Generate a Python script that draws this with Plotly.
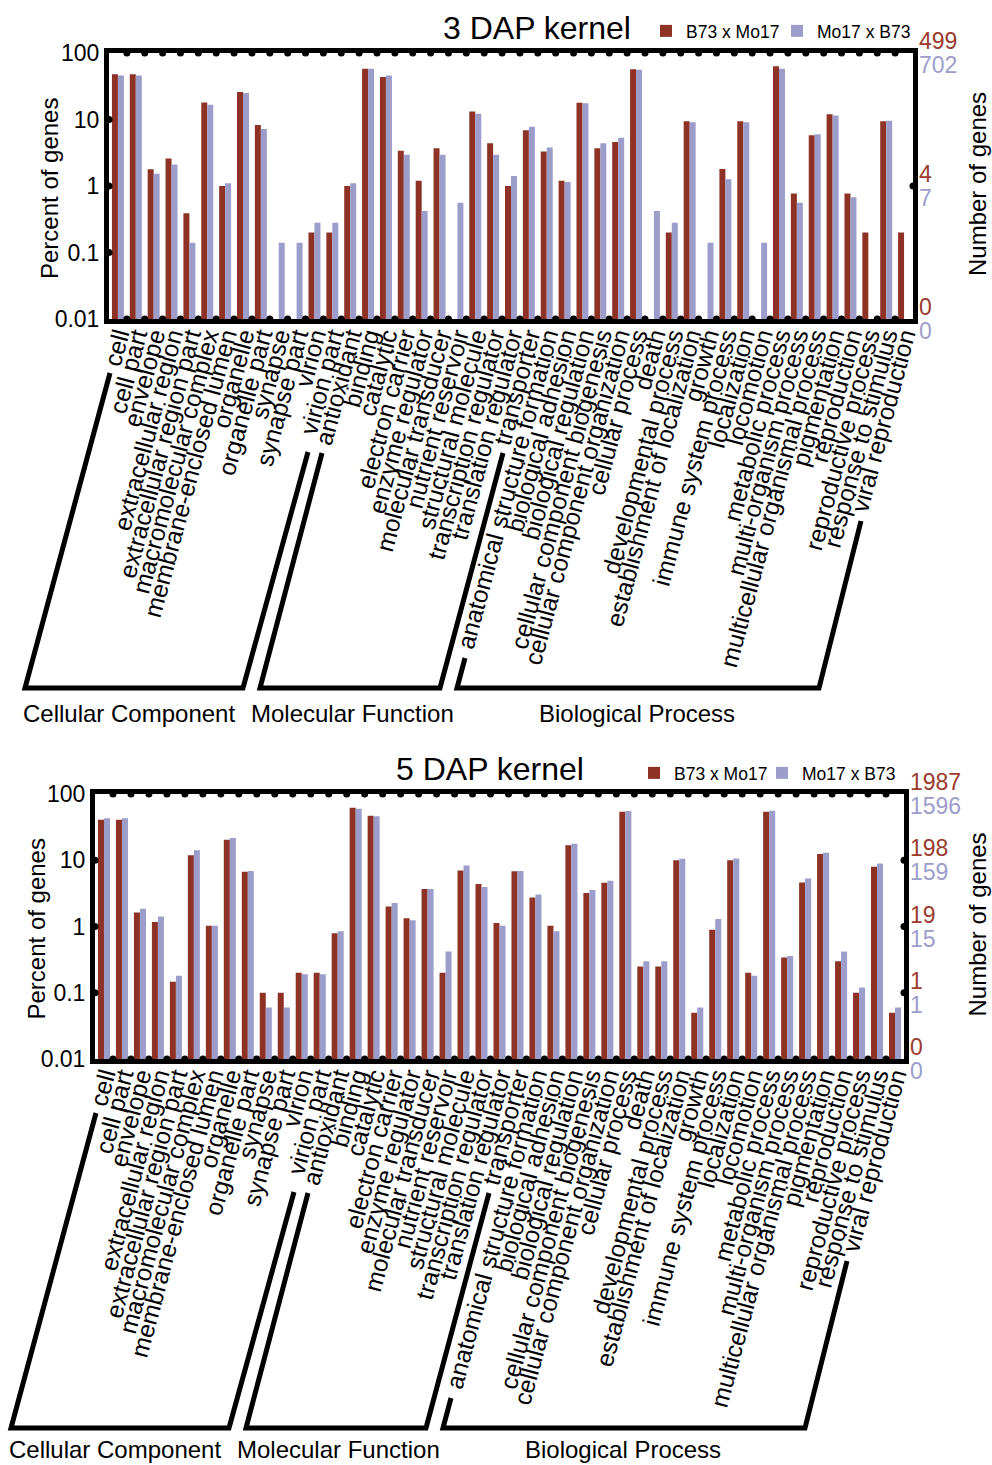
import math
import plotly.graph_objects as go

W, H = 992, 1465
FONT = "Liberation Sans, Arial, sans-serif"
RED = "#8e3226"
PURPLE = "#9d9dcc"
RED_TXT = "#9b3b2e"

categories = [
    "cell", "cell part", "envelope", "extracellular region", "extracellular region part",
    "macromolecular complex", "membrane-enclosed lumen", "organelle", "organelle part",
    "synapse", "synapse part", "virion", "virion part", "antioxidant", "binding",
    "catalytic", "electron carrier", "enzyme regulator", "molecular transducer",
    "nutrient reservoir", "structural molecule", "transcription regulator",
    "translation regulator", "transporter", "anatomical structure formation",
    "biological adhesion", "biological regulation", "cellular component biogenesis",
    "cellular component organization", "cellular process", "death",
    "developmental process", "establishment of localization", "growth",
    "immune system process", "localization", "locomotion", "metabolic process",
    "multi-organism process", "multicellular organismal process", "pigmentation",
    "reproduction", "reproductive process", "response to stimulus", "viral reproduction",
]

# 3 DAP kernel (percent of genes)
b73xmo17_3dap = [48, 48, 1.78, 2.6, 0.39, 18, 1.0, 26, 8.3, None, None, 0.2, 0.2, 1.0, 58,
                 43.5, 3.4, 1.2, 3.7, None, 13.2, 4.4, 1.0, 6.9, 3.3, 1.2, 17.8, 3.7, 4.6,
                 57, None, 0.2, 9.4, None, 1.8, 9.4, None, 63, 0.77, 5.8, 12, 0.77, 0.2, 9.4, 0.2]
mo17xb73_3dap = [46, 46, 1.53, 2.1, 0.14, 16.6, 1.1, 25, 7.2, 0.14, 0.14, 0.28, 0.28, 1.1, 58,
                 46, 2.95, 0.42, 2.95, 0.56, 12.2, 2.95, 1.41, 7.8, 3.8, 1.15, 17.5, 4.4, 5.3,
                 56, 0.42, 0.28, 9.1, 0.14, 1.26, 9.1, 0.14, 58, 0.56, 6.0, 11.5, 0.68, None, 9.6, None]

# 5 DAP kernel (percent of genes)
b73xmo17_5dap = [40.7, 40.7, 1.62, 1.17, 0.146, 11.9, 1.03, 20.4, 6.7, 0.1, 0.1, 0.2, 0.2, 0.79, 62,
                 46.8, 2.0, 1.33, 3.67, 0.2, 7.0, 4.37, 1.13, 6.8, 2.75, 1.03, 16.8, 3.2, 4.57,
                 54, 0.25, 0.25, 10, 0.05, 0.89, 10, 0.2, 54, 0.34, 4.6, 12.4, 0.3, 0.1, 8.0, 0.05]
mo17xb73_5dap = [43, 43, 1.86, 1.41, 0.18, 14.1, 1.03, 21.6, 6.9, 0.06, 0.06, 0.19, 0.19, 0.85, 60,
                 46, 2.26, 1.24, 3.67, 0.42, 8.3, 3.94, 1.03, 6.9, 3.05, 0.85, 17.8, 3.55, 4.9,
                 55.6, 0.3, 0.3, 10.5, 0.06, 1.3, 10.6, 0.18, 56, 0.36, 5.3, 13, 0.42, 0.12, 8.9, 0.06]

y_tickvals = [0.01, 0.1, 1, 10, 100]
y_ticktext = ["0.01", "0.1", "1", "10", "100"]

# right axis: number of genes (B73 x Mo17 in red, Mo17 x B73 in purple)
right_levels_3dap = [100, 1, 0.01]
right_red_3dap = ["499", "4", "0"]
right_purple_3dap = ["702", "7", "0"]
right_levels_5dap = [100, 10, 1, 0.1, 0.01]
right_red_5dap = ["1987", "198", "19", "1", "0"]
right_purple_5dap = ["1596", "159", "15", "1", "0"]

series_names = ["B73 x Mo17", "Mo17 x B73"]
group_names = ["Cellular Component", "Molecular Function", "Biological Process"]


def px(x):
    return x / W


def py(y):
    return 1 - y / H


panels = [
    dict(left=109, right=913, top=53, bottom=319, title="3 DAP kernel", tx=537, ty=28,
         gy=713, data=(b73xmo17_3dap, mo17xb73_3dap),
         rl=right_levels_3dap, rr=right_red_3dap, rp=right_purple_3dap, rdots=[1]),
    dict(left=95, right=904, top=794, bottom=1059, title="5 DAP kernel", tx=490, ty=769,
         gy=1449, data=(b73xmo17_5dap, mo17xb73_5dap),
         rl=right_levels_5dap, rr=right_red_5dap, rp=right_purple_5dap, rdots=[10, 1, 0.1]),
]

fig = go.Figure()
n = len(categories)
xs = list(range(n))
shapes = []
annotations = []
layout = dict(width=W, height=H, margin=dict(l=0, r=0, t=0, b=0),
              paper_bgcolor="white", plot_bgcolor="white",
              barmode="group", bargap=0.33, bargroupgap=0.0,
              font=dict(family=FONT, color="black"))

legend_x = [(646, 777), (634, 762)]
legend_y = [31, 773]
leg_count = 0
for k, p in enumerate(panels):
    sfx = "" if k == 0 else str(k + 1)
    xa, ya = "x" + sfx, "y" + sfx
    layout["xaxis" + sfx] = dict(
        domain=[px(p["left"]), px(p["right"])], range=[-0.5, n - 0.5], anchor=ya,
        tickmode="array", tickvals=xs, ticktext=categories, tickangle=-75,
        tickfont=dict(size=24.5, family=FONT, color="black"), ticklabelstandoff=-12,
        showline=True, linewidth=5, linecolor="black", mirror=True,
        ticks="", showgrid=False, zeroline=False, automargin=False)
    layout["yaxis" + sfx] = dict(
        domain=[py(p["bottom"]), py(p["top"])], type="log", range=[-2, 2], anchor=xa,
        tickmode="array", tickvals=y_tickvals, ticktext=y_ticktext,
        tickfont=dict(size=23, family=FONT, color="black"),
        showline=True, linewidth=5, linecolor="black", mirror=True,
        ticks="", showgrid=False, zeroline=False, automargin=False)

    for j, (vals, name, col) in enumerate(zip(p["data"], series_names, [RED, PURPLE])):
        leg_count += 1
        leg = "legend" if leg_count == 1 else f"legend{leg_count}"
        layout[leg] = dict(x=px(legend_x[k][j]), y=py(legend_y[k]),
                           xanchor="left", yanchor="middle", font=dict(size=17.5, family=FONT),
                           bgcolor="rgba(0,0,0,0)", itemwidth=30, borderwidth=0)
        fig.add_trace(go.Bar(x=xs, y=vals, name=name, marker=dict(color=col, line=dict(width=0)),
                             xaxis=xa, yaxis=ya, legend=leg))

    # dot tick marks on the frame
    bx = [i + 0.5 for i in range(n - 1)]
    dx = bx + bx + [-0.5] * 3 + [n - 0.5] * len(p["rdots"])
    dy = [100] * len(bx) + [0.01] * len(bx) + [10, 1, 0.1] + p["rdots"]
    fig.add_trace(go.Scatter(x=dx, y=dy, mode="markers", xaxis=xa, yaxis=ya,
                             marker=dict(color="black", size=7), cliponaxis=False,
                             showlegend=False, hoverinfo="skip"))

    # right axis labels
    for lv, tr, tp in zip(p["rl"], p["rr"], p["rp"]):
        annotations.append(dict(x=1, xref=xa + " domain", y=math.log10(lv), yref=ya,
                                text=tr, showarrow=False, xanchor="left", yanchor="middle",
                                xshift=4, yshift=12, font=dict(size=23, color=RED_TXT, family=FONT)))
        annotations.append(dict(x=1, xref=xa + " domain", y=math.log10(lv), yref=ya,
                                text=tp, showarrow=False, xanchor="left", yanchor="middle",
                                xshift=4, yshift=-12, font=dict(size=23, color=PURPLE, family=FONT)))

    # titles
    annotations.append(dict(x=px(p["tx"]), y=py(p["ty"]), xref="paper", yref="paper",
                            text=p["title"], showarrow=False, xanchor="center", yanchor="middle",
                            font=dict(size=32, family=FONT)))
    mid = (p["top"] + p["bottom"]) / 2
    annotations.append(dict(x=px(p["left"] - 59), y=py(mid + 3), xref="paper", yref="paper",
                            text="Percent of genes", textangle=-90, showarrow=False,
                            xanchor="center", yanchor="middle", font=dict(size=24, family=FONT)))
    annotations.append(dict(x=px(977), y=py(mid - 2), xref="paper", yref="paper",
                            text="Number of genes", textangle=-90, showarrow=False,
                            xanchor="center", yanchor="middle", font=dict(size=24, family=FONT)))

    # group brackets
    L, B = p["left"], p["bottom"]
    brackets = [
        [(1, 54), (-84, 369), (134, 369), (199, 133)],
        [(213, 134), (151, 369), (331, 369), (394, 134)],
        [(356, 339), (348, 369), (710, 369), (752, 202)],
    ]
    centers = [20, 243, 528]
    for br, cx, gname in zip(brackets, centers, group_names):
        path = "M " + " L ".join(f"{px(L + a):.5f},{py(B + b):.5f}" for a, b in br)
        shapes.append(dict(type="path", path=path, xref="paper", yref="paper",
                           line=dict(color="black", width=5)))
        annotations.append(dict(x=px(L + cx), y=py(p["gy"]), xref="paper", yref="paper",
                                text=gname, showarrow=False, xanchor="center", yanchor="middle",
                                font=dict(size=24, family=FONT)))

layout["shapes"] = shapes
layout["annotations"] = annotations
fig.update_layout(**layout)
fig.write_html("out.html",
               post_script="document.body.style.margin='0';document.body.style.overflow='hidden';")
